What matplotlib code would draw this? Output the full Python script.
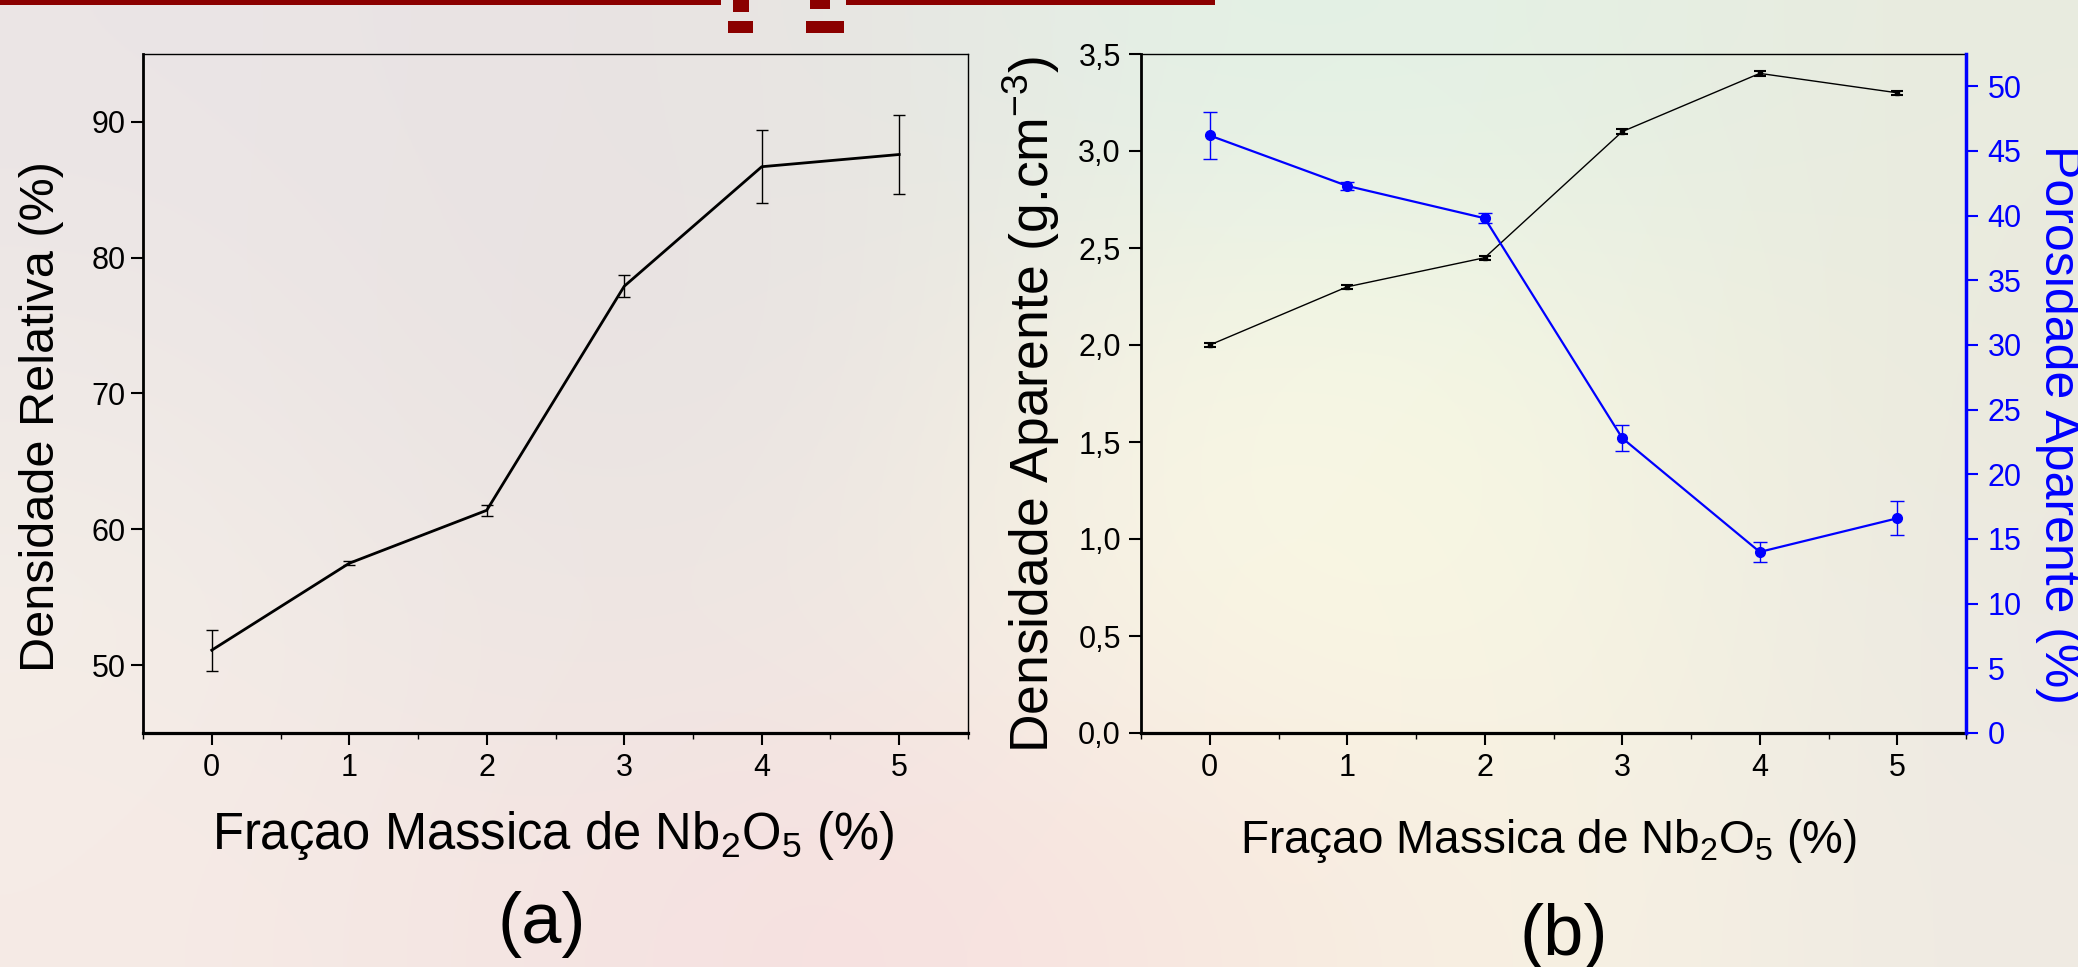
import numpy as np
import matplotlib
matplotlib.use("Agg")
import matplotlib.pyplot as plt
from matplotlib.ticker import FuncFormatter, MultipleLocator
from matplotlib.patches import Rectangle
from matplotlib.colors import to_rgb

plt.rcParams['font.family'] = ['Liberation Sans', 'DejaVu Sans']
plt.rcParams['mathtext.fontset'] = 'custom'
plt.rcParams['mathtext.rm'] = 'Liberation Sans'
plt.rcParams['mathtext.it'] = 'Liberation Sans:italic'
plt.rcParams['mathtext.bf'] = 'Liberation Sans:bold'

# dados
fracao = [0, 1, 2, 3, 4, 5]
dens_rel = [51.1, 57.5, 61.4, 77.9, 86.7, 87.6]
dens_rel_err = [1.5, 0.15, 0.4, 0.8, 2.7, 2.9]
dens_apar = [2.00, 2.30, 2.45, 3.10, 3.40, 3.30]
dens_apar_err = [0.01, 0.01, 0.01, 0.012, 0.012, 0.01]
poros = [46.2, 42.3, 39.8, 22.8, 14.0, 16.6]
poros_err = [1.85, 0.3, 0.4, 1.0, 0.8, 1.3]

W, H = 2078, 967
fig = plt.figure(figsize=(W / 100, H / 100), dpi=100)

# fundo borrado
bg_rows = [
    ['#ebe5e6', '#e9e3e3', '#e8e5e2', '#e2f2e6', '#e4f0e4', '#e9ebdf'],
    ['#efe9e6', '#e9e2e2', '#eae4e2', '#faf8e3', '#f3f5e3', '#ebeade'],
    ['#f4eee8', '#ede6e3', '#efe8e3', '#fbf8e4', '#f7f6e2', '#ece9e1'],
    ['#f6ebe6', '#f4e5e2', '#f7dfe0', '#f8e8e0', '#f8f2e2', '#efeae3'],
]
bg_img = np.array([[to_rgb(c) for c in row] for row in bg_rows])
bg = fig.add_axes([0, 0, 1, 1], zorder=-10)
bg.imshow(bg_img, aspect='auto', interpolation='bicubic', extent=[0, 1, 0, 1])
bg.axis('off')

# faixa do titulo cortado
red = '#8b0000'
for (x0, y0, w, h) in [(0, 0, 721, 5), (846, 0, 369, 5), (728, 21, 25, 12),
                       (806, 21, 38, 12), (733, 0, 16, 12), (810, 0, 20, 9)]:
    fig.add_artist(Rectangle((x0 / W, 1 - (y0 + h) / H), w / W, h / H,
                             transform=fig.transFigure, color=red, lw=0))

rect_a = [143 / W, (H - 733) / H, 825 / W, 679 / H]
rect_b = [1141 / W, (H - 733) / H, 825 / W, 679 / H]

def style(ax):
    ax.set_facecolor('none')
    ax.tick_params(direction='out', length=8.5, width=1.5, labelsize=22, pad=6,
                   top=False, right=False)
    ax.xaxis.set_minor_locator(MultipleLocator(0.5))
    ax.tick_params(axis='x', which='minor', direction='out', length=4, width=1)
    ax.tick_params(axis='y', which='minor', left=False)
    ax.spines['left'].set_linewidth(2)
    ax.spines['bottom'].set_linewidth(2.3)
    ax.spines['top'].set_linewidth(1)
    ax.spines['right'].set_linewidth(1)

# (a)
ax1 = fig.add_axes(rect_a)
style(ax1)
ax1.tick_params(axis='y', pad=4)
ax1.errorbar(fracao, dens_rel, yerr=dens_rel_err, color='k', lw=2,
             elinewidth=1, capsize=4.5, capthick=1)
ax1.set_xlim(-0.5, 5.5)
ax1.set_ylim(45, 95)
ax1.set_xticks(fracao)
ax1.set_yticks([50, 60, 70, 80, 90])

# (b)
ax2 = fig.add_axes(rect_b)
style(ax2)
ax2.errorbar(fracao, dens_apar, yerr=dens_apar_err, color='k', lw=1,
             marker='s', ms=3, elinewidth=1, capsize=4, capthick=1.5)
ax2.set_xlim(-0.5, 5.5)
ax2.set_ylim(0, 3.5)
ax2.set_xticks(fracao)
ax2.set_yticks(np.arange(0, 3.51, 0.5))
ax2.yaxis.set_major_formatter(FuncFormatter(lambda v, p: f'{v:.1f}'.replace('.', ',')))
ax2.spines['right'].set_visible(False)

ax3 = ax2.twinx()
ax3.set_facecolor('none')
ax3.errorbar(fracao, poros, yerr=poros_err, color='#0000ff', lw=1.6,
             marker='o', ms=7, elinewidth=1, capsize=5, capthick=1)
ax3.set_ylim(0, 52.5)
ax3.set_yticks(np.arange(0, 51, 5))
for s in ['left', 'top', 'bottom']:
    ax3.spines[s].set_visible(False)
ax3.spines['right'].set_color('#0000ff')
ax3.spines['right'].set_linewidth(2.5)
ax3.tick_params(axis='y', direction='out', length=8.5, width=1.5, labelsize=22,
                pad=7, colors='#0000ff')

# textos
def ftext(x, y, s, **kw):
    kw.setdefault('ha', 'center')
    fig.text(x / W, 1 - y / H, s, va='center', **kw)

ftext(553, 836, 'Fraçao Massica de Nb$_2$O$_5$ (%)', fontsize=36.5)
ftext(1548, 841, 'Fraçao Massica de Nb$_2$O$_5$ (%)', fontsize=33)
ftext(42, 417, 'Densidade Relativa (%)', fontsize=35, rotation=90)
ftext(1062, 404, 'Densidade Aparente (g.cm$^{-3}$)', fontsize=38.5,
      rotation=90, ha='right')
ftext(2058, 424, 'Porosidade Aparente (%)', fontsize=36, rotation=270,
      color='#0000ff')
ftext(542, 925, '(a)', fontsize=52)
ftext(1564, 936, '(b)', fontsize=52)

fig.savefig('out.png', dpi=100)
